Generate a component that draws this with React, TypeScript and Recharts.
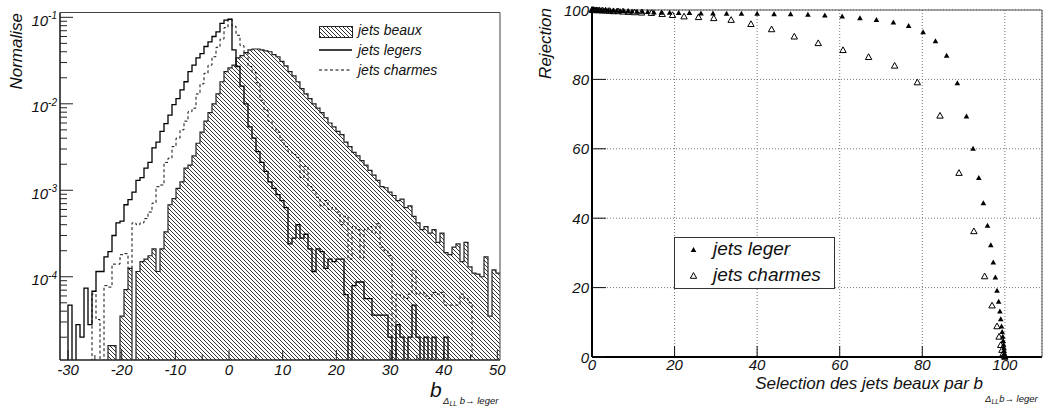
import { ComposedChart, Area, Line, XAxis, YAxis, ScatterChart, Scatter, CartesianGrid } from "recharts";

const FONT = "'Liberation Sans', Arial, Helvetica, sans-serif";

// histogram range and binning (110 bins)
const X_MIN = -31.5;
const X_MAX = 50.5;
const Y_MIN = 1.09e-5;
const Y_MAX = 0.1137;
const FLOOR = 1e-9; // empty bins drop below the frame

// normalised contents, one value per bin
const BEAUX = [
    0, 0, 0, 0, 0, 0, 0, 0, 0, 0,
    0, 0, 1.6e-5, 1.6e-5, 0, 3.5e-5, 7.1e-5, 1.25e-4, 0, 1.15e-4,
    1.5e-4, 1.6e-4, 1.75e-4, 2.1e-4, 1.15e-4, 2.1e-4, 3.3e-4, 6.8e-4, 8.0e-4, 1.05e-3,
    1.25e-3, 1.8e-3, 1.95e-3, 2.5e-3, 3.5e-3, 4.7e-3, 6.3e-3, 7.9e-3, 1.0e-2, 1.3e-2,
    1.8e-2, 2.35e-2, 2.6e-2, 2.8e-2, 3.4e-2, 3.6e-2, 3.9e-2, 4.2e-2, 4.3e-2, 4.3e-2,
    4.2e-2, 4.1e-2, 4.0e-2, 3.7e-2, 3.5e-2, 3.1e-2, 2.75e-2, 2.35e-2, 2.1e-2, 1.8e-2,
    1.5e-2, 1.3e-2, 1.15e-2, 1.0e-2, 8.9e-3, 7.9e-3, 6.9e-3, 6.0e-3, 5.4e-3, 4.8e-3,
    4.4e-3, 3.6e-3, 3.2e-3, 2.75e-3, 2.5e-3, 2.2e-3, 1.95e-3, 1.7e-3, 1.5e-3, 1.3e-3,
    1.1e-3, 1.07e-3, 9.5e-4, 8.7e-4, 7.6e-4, 7.9e-4, 6.3e-4, 6.6e-4, 5.0e-4, 4.2e-4,
    3.5e-4, 3.8e-4, 3.2e-4, 3.5e-4, 2.5e-4, 3.2e-4, 1.9e-4, 1.8e-4, 2.2e-4, 2.4e-4,
    1.5e-4, 2.5e-4, 1.3e-4, 1.1e-4, 1.07e-4, 1.0e-4, 1.7e-4, 3.5e-5, 1.2e-4, 1.1e-4,
];

const LEGERS = [
    0, 0, 4.7e-5, 0, 2.8e-5, 2.0e-5, 7.4e-5, 2.8e-5, 6.8e-5, 1.15e-4,
    1.15e-4, 1.7e-4, 1.95e-4, 3.0e-4, 4.2e-4, 4.4e-4, 6.8e-4, 7.8e-4, 9.5e-4, 1.3e-3,
    1.4e-3, 1.8e-3, 2.1e-3, 3.1e-3, 3.6e-3, 4.8e-3, 5.9e-3, 7.4e-3, 9.8e-3, 1.15e-2,
    1.45e-2, 1.8e-2, 2.35e-2, 2.8e-2, 3.4e-2, 3.8e-2, 4.6e-2, 5.2e-2, 6.0e-2, 6.8e-2,
    8.5e-2, 9.3e-2, 9.5e-2, 4.2e-2, 2.7e-2, 1.6e-2, 1.0e-2, 5.4e-3, 4.0e-3, 2.8e-3,
    2.1e-3, 1.65e-3, 1.25e-3, 1.05e-3, 8.9e-4, 7.6e-4, 6.3e-4, 2.4e-4, 2.8e-4, 4.0e-4,
    2.8e-4, 3.1e-4, 2.1e-4, 1.15e-4, 2.1e-4, 1.95e-4, 1.25e-4, 1.6e-4, 1.5e-4, 1.6e-4,
    1.6e-4, 6.2e-5, 0, 7.9e-5, 8.7e-5, 8.7e-5, 5.6e-5, 5.6e-5, 3.6e-5, 3.6e-5,
    3.6e-5, 3.6e-5, 2.0e-5, 0, 2.8e-5, 2.0e-5, 0, 2.0e-5, 4.7e-5, 2.0e-5,
    0, 2.0e-5, 0, 2.0e-5, 0, 0, 2.0e-5, 0, 0, 0,
    0, 0, 0, 0, 0, 0, 0, 0, 0, 0,
];

const CHARMES = [
    0, 0, 0, 0, 0, 0, 0, 0, 6.3e-5, 3.2e-5,
    0, 7.9e-5, 7.6e-5, 1.4e-4, 1.4e-4, 1.8e-4, 1.85e-4, 1.25e-4, 4.2e-4, 4.0e-4,
    4.2e-4, 4.7e-4, 5.6e-4, 7.1e-4, 1.1e-3, 1.15e-3, 2.1e-3, 2.35e-3, 3.2e-3, 4.0e-3,
    5.0e-3, 6.3e-3, 8.1e-3, 8.9e-3, 1.3e-2, 1.7e-2, 2.25e-2, 2.8e-2, 3.5e-2, 4.5e-2,
    5.6e-2, 7.6e-2, 9.5e-2, 7.9e-2, 6.2e-2, 4.7e-2, 3.9e-2, 2.7e-2, 2.3e-2, 1.75e-2,
    1.1e-2, 8.5e-3, 6.3e-3, 5.2e-3, 4.7e-3, 3.8e-3, 3.2e-3, 2.8e-3, 2.6e-3, 2.4e-3,
    1.4e-3, 1.9e-3, 1.1e-3, 1.0e-3, 8.3e-4, 6.6e-4, 7.6e-4, 6.0e-4, 6.3e-4, 5.6e-4,
    4.0e-4, 5.0e-4, 1.6e-4, 3.8e-4, 3.5e-4, 1.65e-4, 3.5e-4, 3.8e-4, 3.2e-4, 4.1e-4,
    2.2e-4, 2.0e-4, 1.75e-4, 0, 6.3e-5, 6.0e-5, 5.6e-5, 6.3e-5, 1.2e-4, 6.3e-5,
    6.6e-5, 6.0e-5, 5.6e-5, 6.6e-5, 6.3e-5, 6.6e-5, 4.7e-5, 4.7e-5, 4.7e-5, 4.7e-5,
    6.3e-5, 5.6e-5, 5.0e-5, 0, 0, 0, 0, 0, 0, 0,
];

const X_TICKS = [-30, -25, -20, -15, -10, -5, 0, 5, 10, 15, 20, 25, 30, 35, 40, 45, 50];
const DECADES = [-5, -4, -3, -2, -1];

// rejection curves: efficiency on b (%) vs rejection (%)
const LEGER_EFF = [
    0, 0.2, 0.4, 0.6, 0.9, 1.2, 1.5, 1.9, 2.3, 2.8,
    3.3, 3.9, 4.5, 5.2, 6.0, 6.8, 7.7, 8.7, 9.7, 10.9,
    12.2, 13.5, 15.0, 16.8, 18.8, 21.0, 23.6, 26.4, 29.3, 32.6,
    36.2, 40.0, 44.1, 48.1, 52.3, 56.4, 60.6, 64.9, 68.9, 73.0,
    76.7, 80.2, 83.2, 85.9, 88.5, 90.7, 92.3, 93.7, 94.8, 95.8,
    96.6, 97.2, 97.7, 98.1, 98.5, 98.8, 99.0, 99.2, 99.35, 99.5,
    99.6, 99.7, 99.8, 99.85, 99.9, 99.95, 100,
];
const LEGER_REJ = [
    100, 100, 100, 100, 100, 100, 100, 99.9, 99.9, 99.9,
    99.9, 99.9, 99.8, 99.8, 99.8, 99.7, 99.7, 99.6, 99.6, 99.5,
    99.5, 99.4, 99.3, 99.2, 99.2, 99.1, 99.1, 99.0, 99.0, 98.9,
    98.9, 98.9, 98.8, 98.8, 98.6, 98.4, 98.1, 97.6, 97.1, 96.4,
    95.4, 93.6, 91.0, 86.8, 78.9, 69.3, 60.0, 51.6, 44.3, 37.8,
    32.2, 27.2, 22.9, 19.1, 15.9, 13.1, 10.9, 8.8, 7.2, 5.8,
    4.6, 3.5, 2.5, 1.7, 1.0, 0.4, 0,
];
const CHARM_EFF = [
    0, 0.3, 0.7, 1.2, 1.8, 2.5, 3.3, 4.2, 5.2, 6.3,
    7.5, 8.8, 10.3, 12.0, 14.4, 17.0, 19.5, 22.3, 25.8, 29.5,
    33.7, 38.5, 43.5, 49.0, 54.8, 60.8, 67.0, 73.3, 78.8, 84.3,
    88.9, 92.5, 95.1, 96.9, 98.1, 98.6, 99.0, 99.3, 99.6, 99.8,
    100,
];
const CHARM_REJ = [
    100, 100, 99.9, 99.9, 99.9, 99.8, 99.8, 99.7, 99.6, 99.6,
    99.5, 99.4, 99.3, 99.2, 99.1, 98.8, 98.5, 98.1, 97.9, 97.6,
    97.1, 95.9, 94.4, 92.3, 90.4, 88.4, 86.4, 83.9, 79.1, 69.5,
    53.0, 36.2, 23.2, 14.8, 8.8, 5.8, 3.4, 2.0, 1.0, 0.4,
    0,
];
const EFF_TICKS = [0, 20, 40, 60, 80, 100];
const REJ_TICKS = [0, 20, 40, 60, 80, 100];

const BIN_W = (X_MAX - X_MIN) / BEAUX.length;

// step histograms need one extra edge at the end
const histData = Array.from({ length: BEAUX.length + 1 }, (_, i) => {
    const k = Math.min(i, BEAUX.length - 1);
    return {
        x: X_MIN + i * BIN_W,
        beaux: BEAUX[k] || FLOOR,
        legers: LEGERS[k] || FLOOR,
        charmes: CHARMES[k] || FLOOR,
    };
});

const logTicks: number[] = [];
DECADES.forEach(e => {
    for (let m = 1; m <= 9; m++) {
        const v = m * Math.pow(10, e);
        if (v >= Y_MIN && v <= Y_MAX) logTicks.push(v);
    }
});

const legerData = LEGER_EFF.map((eff, i) => ({ eff, rej: LEGER_REJ[i] }));
const charmData = CHARM_EFF.map((eff, i) => ({ eff, rej: CHARM_REJ[i] }));

const LogTick = ({ x, y, payload }: any) => {
    const lg = Math.log10(payload.value);
    const e = Math.round(lg);
    const major = Math.abs(lg - e) < 1e-6;
    return (
        <g>
            <line x1={x} x2={x + (major ? 13 : 7)} y1={y} y2={y} stroke="#222" />
            {major && (
                <text x={x - 3} y={y + 8.5} textAnchor="end" fontSize={15} fontStyle="italic" fontFamily={FONT} fill="#111">
                    10<tspan dy={-6.5} fontSize={10}>{e}</tspan>
                </text>
            )}
        </g>
    );
};

const BinTick = ({ x, y, payload }: any) => {
    const v = payload.value;
    const major = v % 10 === 0;
    return (
        <g>
            <line x1={x} x2={x} y1={y} y2={y - (major ? 10 : 5)} stroke="#222" />
            {major && (
                <text x={x} y={y + 14.5} textAnchor="middle" fontSize={15} fontStyle="italic" fontFamily={FONT} fill="#111">
                    {v}
                </text>
            )}
        </g>
    );
};

const RejTick = ({ x, y, payload }: any) => (
    <g>
        <line x1={x} x2={x + 14} y1={y} y2={y} stroke="#111" />
        <text x={x - 3} y={y + 5.5} textAnchor="end" fontSize={15} fontStyle="italic" fontFamily={FONT} fill="#111">
            {payload.value}
        </text>
    </g>
);

const EffTick = ({ x, y, payload }: any) => (
    <g>
        <line x1={x} x2={x} y1={y} y2={y - 11} stroke="#111" />
        <text x={x} y={y + 13} textAnchor="middle" fontSize={15} fontStyle="italic" fontFamily={FONT} fill="#111">
            {payload.value}
        </text>
    </g>
);

const FilledTri = ({ cx, cy }: any) => (
    <polygon points={`${cx},${cy - 3} ${cx + 2.8},${cy + 2} ${cx - 2.8},${cy + 2}`} fill="#000" />
);

const OpenTri = ({ cx, cy }: any) => (
    <polygon points={`${cx},${cy - 3.4} ${cx + 3.2},${cy + 2.3} ${cx - 3.2},${cy + 2.3}`} fill="none" stroke="#000" strokeWidth={1} />
);

function HistPanel() {
    // axes get 1px of thickness, CartesianAxis draws nothing at 0
    return (
        <ComposedChart width={530} height={406} data={histData} margin={{ top: 11.5, right: 29, bottom: 45, left: 59 }}>
            <defs>
                <pattern id="hatchB" patternUnits="userSpaceOnUse" width="4" height="4">
                    <path d="M-1,-1 L5,5 M3,-1 L5,1 M-1,3 L1,5" stroke="#000" strokeWidth="0.8" />
                </pattern>
            </defs>
            <Area
                type="stepAfter"
                dataKey="beaux"
                fill="url(#hatchB)"
                fillOpacity={1}
                stroke="#222"
                strokeWidth={1.2}
                isAnimationActive={false}
            />
            <Line type="stepAfter" dataKey="legers" stroke="#000" strokeWidth={1.3} dot={false} isAnimationActive={false} />
            <Line
                type="stepAfter"
                dataKey="charmes"
                stroke="#111"
                strokeWidth={1}
                strokeDasharray="3 2.5"
                dot={false}
                isAnimationActive={false}
            />
            <XAxis
                dataKey="x"
                type="number"
                domain={[X_MIN, X_MAX]}
                allowDataOverflow
                ticks={X_TICKS}
                interval={0}
                height={1}
                tickSize={0}
                tickMargin={0}
                tickLine={false}
                tick={<BinTick />}
                axisLine={{ stroke: "#222", strokeWidth: 1.6 }}
            />
            <YAxis
                type="number"
                scale="log"
                domain={[Y_MIN, Y_MAX]}
                allowDataOverflow
                ticks={logTicks}
                interval={0}
                width={1}
                tickSize={0}
                tickMargin={0}
                tickLine={false}
                tick={<LogTick />}
                axisLine={{ stroke: "#222", strokeWidth: 1.6 }}
            />
            <XAxis xAxisId="top" orientation="top" type="number" domain={[0, 1]} height={1} tick={false} tickLine={false} axisLine={{ stroke: "#444" }} />
            <YAxis yAxisId="right" orientation="right" type="number" domain={[0, 1]} width={1} tick={false} tickLine={false} axisLine={{ stroke: "#444" }} />
        </ComposedChart>
    );
}

function RejectionPanel() {
    return (
        <ScatterChart width={522} height={406} margin={{ top: 9, right: 9, bottom: 48, left: 61 }}>
            <CartesianGrid strokeDasharray="1 2" stroke="#777" />
            <Scatter data={charmData} shape={<OpenTri />} isAnimationActive={false} />
            <Scatter data={legerData} shape={<FilledTri />} isAnimationActive={false} />
            <XAxis
                dataKey="eff"
                type="number"
                domain={[0, 109]}
                ticks={EFF_TICKS}
                interval={0}
                height={1}
                tickSize={0}
                tickMargin={0}
                tickLine={false}
                tick={<EffTick />}
                axisLine={{ stroke: "#000", strokeWidth: 2 }}
            />
            <YAxis
                dataKey="rej"
                type="number"
                domain={[0, 100]}
                ticks={REJ_TICKS}
                interval={0}
                width={1}
                tickSize={0}
                tickMargin={0}
                tickLine={false}
                tick={<RejTick />}
                axisLine={{ stroke: "#000", strokeWidth: 2 }}
            />
            <XAxis xAxisId="top" orientation="top" type="number" domain={[0, 1]} height={1} tick={false} tickLine={false} axisLine={{ stroke: "#555" }} />
            <YAxis yAxisId="right" orientation="right" type="number" domain={[0, 1]} width={1} tick={false} tickLine={false} axisLine={{ stroke: "#555" }} />
        </ScatterChart>
    );
}

export default function App() {
    return (
        <div style={{ position: "absolute", left: 0, top: 0, width: 1052, height: 406, background: "#fff", overflow: "hidden" }}>
            <div style={{ position: "absolute", left: 0, top: 0 }}>
                <HistPanel />
            </div>
            <div style={{ position: "absolute", left: 530, top: 0 }}>
                <RejectionPanel />
            </div>
            <svg
                width={1052}
                height={406}
                style={{ position: "absolute", left: 0, top: 0, pointerEvents: "none" }}
                fontFamily={FONT}
                fontStyle="italic"
                fill="#111"
            >
                <defs>
                    <pattern id="hatchL" patternUnits="userSpaceOnUse" width="4" height="4">
                        <path d="M-1,-1 L5,5 M3,-1 L5,1 M-1,3 L1,5" stroke="#000" strokeWidth="0.8" />
                    </pattern>
                </defs>

                {/* histogram legend */}
                <rect x={319.5} y={26.5} width={33} height={11} fill="url(#hatchL)" stroke="#222" />
                <text x={358} y={35} fontSize={14}>jets beaux</text>
                <line x1={319} x2={352} y1={50} y2={50} stroke="#000" strokeWidth={1.3} />
                <text x={358} y={54.5} fontSize={14}>jets legers</text>
                <line x1={319} x2={352} y1={70} y2={70} stroke="#000" strokeDasharray="3 2.5" />
                <text x={358} y={74.5} fontSize={14}>jets charmes</text>

                {/* axis titles */}
                <text transform="translate(22,13) rotate(-90)" textAnchor="end" fontSize={17}>Normalise</text>
                <text transform="translate(551,8) rotate(-90)" textAnchor="end" fontSize={17}>Rejection</text>
                <text x={430} y={397} fontSize={21}>b</text>
                <text x={443} y={404} fontSize={9.5}>
                    Δ<tspan fontSize={7} dy={1.5}>LL</tspan><tspan dy={-1.5}> b→ leger</tspan>
                </text>
                <text x={983} y={389} textAnchor="end" fontSize={17}>Selection des jets beaux par b</text>
                <text x={985} y={402} fontSize={9.5}>
                    Δ<tspan fontSize={7} dy={1.5}>LL</tspan><tspan dy={-1.5}>b→ leger</tspan>
                </text>

                {/* rejection legend */}
                <rect x={674.5} y={237.5} width={160} height={51} fill="#fff" stroke="#333" />
                <polygon points="693.5,247 696.3,252 690.7,252" fill="#000" />
                <text x={713} y={255} fontSize={19}>jets leger</text>
                <polygon points="693.5,272.6 696.7,278.3 690.3,278.3" fill="none" stroke="#000" />
                <text x={713} y={281} fontSize={19}>jets charmes</text>
            </svg>
        </div>
    );
}
